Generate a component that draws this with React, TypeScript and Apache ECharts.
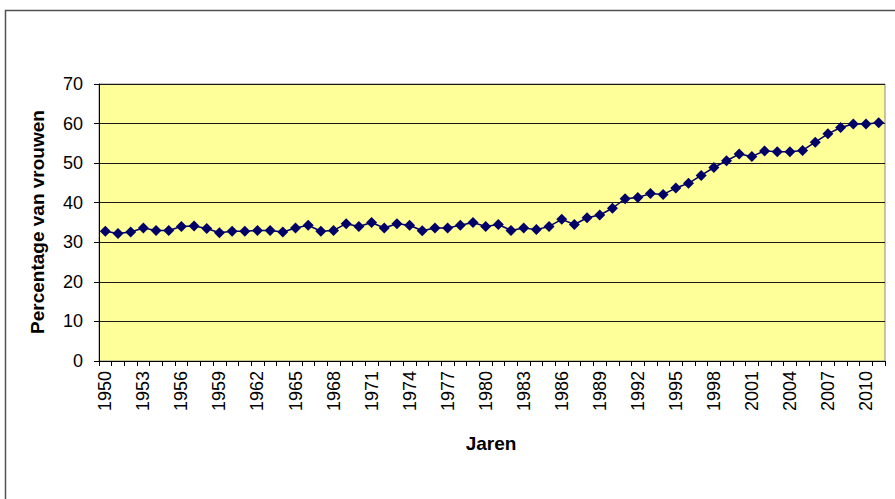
import React, { useEffect, useRef } from "react";
import * as echarts from "echarts";

const years: string[] = [
  "1950","1951","1952","1953","1954","1955","1956","1957","1958","1959",
  "1960","1961","1962","1963","1964","1965","1966","1967","1968","1969",
  "1970","1971","1972","1973","1974","1975","1976","1977","1978","1979",
  "1980","1981","1982","1983","1984","1985","1986","1987","1988","1989",
  "1990","1991","1992","1993","1994","1995","1996","1997","1998","1999",
  "2000","2001","2002","2003","2004","2005","2006","2007","2008","2009",
  "2010","2011",
];

const percentageWomen: number[] = [
  32.8, 32.2, 32.6, 33.6, 33.0, 33.0, 34.0, 34.1, 33.5, 32.4,
  32.8, 32.8, 33.0, 33.0, 32.6, 33.6, 34.3, 32.8, 33.0, 34.7,
  34.0, 35.0, 33.6, 34.7, 34.3, 32.9, 33.6, 33.6, 34.3, 35.0,
  34.0, 34.5, 33.0, 33.6, 33.2, 34.0, 35.8, 34.5, 36.2, 36.9,
  38.6, 41.0, 41.3, 42.3, 42.1, 43.7, 44.9, 46.9, 48.9, 50.6,
  52.3, 51.7, 53.1, 52.9, 52.9, 53.2, 55.3, 57.4, 59.0, 59.9,
  59.9, 60.2,
];

const yAxisTitle = "Percentage van vrouwen";
const xAxisTitle = "Jaren";

export default function App() {
  const ref = useRef<HTMLDivElement>(null);

  useEffect(() => {
    if (!ref.current) return;
    const chart = echarts.init(ref.current, null, { renderer: "svg" });
    const font = "'Liberation Sans', Arial, sans-serif";
    chart.setOption({
      animation: false,
      backgroundColor: "#ffffff",
      textStyle: { fontFamily: font },
      grid: {
        left: 99,
        top: 84,
        width: 786,
        height: 277,
        show: true,
        backgroundColor: "#FFFF99",
        borderColor: "#8a8a8a",
        borderWidth: 1,
      },
      graphic: [
        {
          type: "rect",
          shape: { x: 5.5, y: 10.5, width: 1000, height: 1000 },
          style: { fill: "none", stroke: "#505050", lineWidth: 1.5 },
          silent: true,
        },
        {
          type: "text",
          x: 37,
          y: 222,
          rotation: Math.PI / 2,
          style: {
            text: yAxisTitle,
            fontFamily: font,
            fontWeight: "bold",
            fontSize: 19,
            fill: "#000",
            align: "center",
            verticalAlign: "middle",
          },
        },
        {
          type: "text",
          x: 491,
          y: 443,
          style: {
            text: xAxisTitle,
            fontFamily: font,
            fontWeight: "bold",
            fontSize: 19,
            fill: "#000",
            align: "center",
            verticalAlign: "middle",
          },
        },
      ],
      xAxis: {
        type: "category",
        data: years,
        boundaryGap: true,
        axisLine: { show: true, lineStyle: { color: "#000", width: 1 } },
        axisTick: {
          show: true,
          interval: 0,
          length: 5,
          inside: false,
          lineStyle: { color: "#000" },
        },
        axisLabel: {
          interval: 2,
          rotate: 90,
          fontSize: 18,
          color: "#000",
          margin: 10,
          fontFamily: font,
        },
        splitLine: { show: false },
      },
      yAxis: {
        type: "value",
        min: 0,
        max: 70,
        interval: 10,
        axisLine: { show: true, lineStyle: { color: "#000", width: 1 } },
        axisTick: { show: true, length: 5, lineStyle: { color: "#000" } },
        axisLabel: { fontSize: 18, color: "#000", margin: 16, fontFamily: font },
        splitLine: { show: true, lineStyle: { color: "#1a1a1a", width: 1 } },
      },
      series: [
        {
          type: "line",
          data: percentageWomen,
          symbol: "diamond",
          symbolSize: 11,
          showSymbol: true,
          showAllSymbol: true,
          lineStyle: { color: "#000066", width: 1.5 },
          itemStyle: { color: "#000066" },
        },
      ],
    });
    return () => chart.dispose();
  }, []);

  return (
    <div
      ref={ref}
      style={{ position: "fixed", left: 0, top: 0, width: 895, height: 499, background: "#fff" }}
    />
  );
}
